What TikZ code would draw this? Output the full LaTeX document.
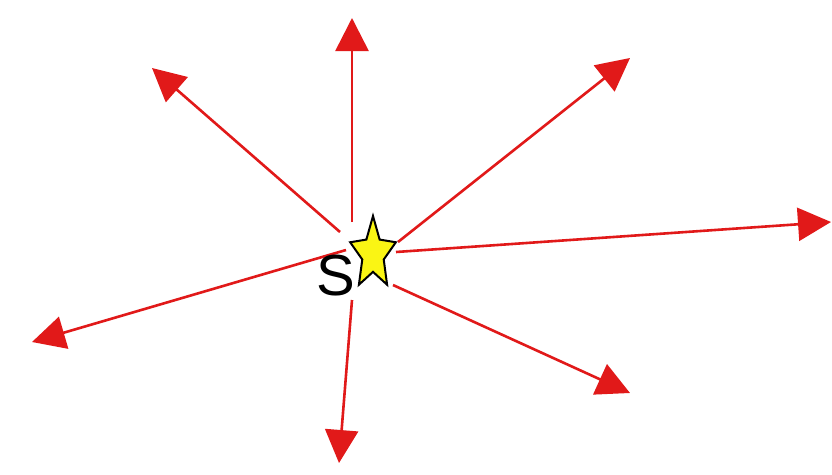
\documentclass[tikz,border=0pt]{standalone}
\usepackage{fontspec}
\setmainfont{Liberation Sans}
\usetikzlibrary{arrows.meta}
\definecolor{arrowred}{RGB}{225,25,25}
\definecolor{staryellow}{RGB}{250,245,20}
\tikzset{
  ray/.style={draw=arrowred, line width=2.6pt, -{Triangle[length=33pt,width=33pt]}},
  starshape/.style={fill=staryellow, draw=black, line width=2pt, line join=miter},
}
\begin{document}
\begin{tikzpicture}[x=1pt,y=-1pt]
\useasboundingbox[fill=white] (0,0) rectangle (832,474);
% centre and ray end points
\coordinate (c) at (373,254);
\coordinate (sU) at (352,222);  \coordinate (tU) at (352,18);
\coordinate (sUL) at (340,232); \coordinate (tUL) at (152,68);
\coordinate (sUR) at (398,242); \coordinate (tUR) at (630,58);
\coordinate (sR) at (396,252);  \coordinate (tR) at (831,222);
\coordinate (sDR) at (393,285); \coordinate (tDR) at (630,393);
\coordinate (sD) at (352,300);  \coordinate (tD) at (339,463);
\coordinate (sDL) at (346,250); \coordinate (tDL) at (32,342);
\draw[ray] (sU) -- (tU);
\draw[ray] (sUL) -- (tUL);
\draw[ray] (sUR) -- (tUR);
\draw[ray] (sR) -- (tR);
\draw[ray] (sDR) -- (tDR);
\draw[ray] (sD) -- (tD);
\draw[ray] (sDL) -- (tDL);
% star
\begin{scope}[shift={(c)}, x=24pt, y=38pt]
\draw[starshape] (90:1) -- (126:0.47) -- (162:1) -- (198:0.47) -- (234:1)
  -- (270:0.47) -- (306:1) -- (342:0.47) -- (18:1) -- (54:0.47) -- cycle;
\end{scope}
\node[font=\fontsize{58}{60}\selectfont, inner sep=0pt] (S) at (336,276) {S};
\end{tikzpicture}
\end{document}
